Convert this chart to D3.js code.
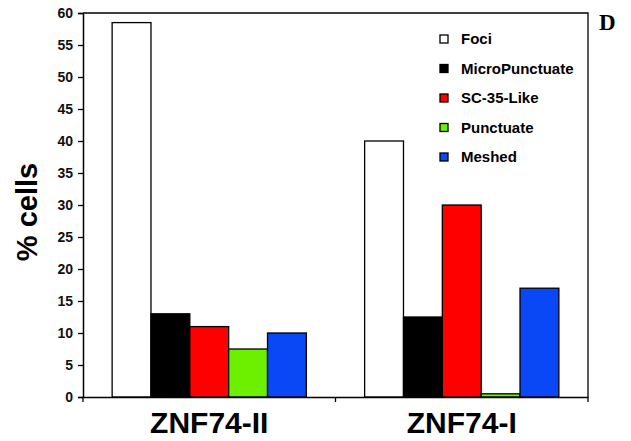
<!DOCTYPE html>
<html>
<head>
<meta charset="utf-8">
<script src="https://cdn.jsdelivr.net/npm/d3@7"></script>
<style>
  body { margin: 0; background: #fff; }
  text { font-family: Arial, "Liberation Sans", sans-serif; font-weight: bold; }
</style>
</head>
<body>
<div id="chart"></div>
<script>
// data
const groups = ['ZNF74-II', 'ZNF74-I'];
const series = ['Foci', 'MicroPunctuate', 'SC-35-Like', 'Punctuate', 'Meshed'];
const colors = ['#ffffff', '#000000', '#ff0000', '#6cf000', '#0a48f5'];
const valuesII = [58.5, 13, 11, 7.5, 10];
const valuesI = [40, 12.5, 30, 0.5, 17];
const yTicks = [0, 5, 10, 15, 20, 25, 30, 35, 40, 45, 50, 55, 60];

const rows = groups.map((g, i) => ({
  group: g,
  values: (i === 0 ? valuesII : valuesI).map((v, j) => ({ key: series[j], value: v, color: colors[j] }))
}));

const width = 631;
const height = 441;
const margin = { top: 13, right: 43, bottom: 44, left: 83 };
const chartWidth = width - margin.left - margin.right;
const chartHeight = height - margin.top - margin.bottom;

const svg = d3.select('#chart').append('svg').attr('width', width).attr('height', height);
const chart = svg.append('g').attr('transform', `translate(${margin.left}, ${margin.top})`);

const x0 = d3.scaleBand().domain(groups).range([0, chartWidth]).padding(0);
const x1 = d3.scaleBand().domain(series).range([0, x0.bandwidth()]).paddingInner(0).paddingOuter(0.75);
const y = d3.scaleLinear().domain([0, 60]).range([chartHeight, 0]);

// frame (top and right)
chart.append('path')
  .attr('d', `M0,0H${chartWidth}V${chartHeight}`)
  .attr('fill', 'none')
  .attr('stroke', '#000')
  .attr('stroke-width', 1.3);

// bars
chart.selectAll('.group')
  .data(rows)
  .enter()
  .append('g')
  .attr('class', 'group')
  .attr('transform', (d) => `translate(${x0(d.group)}, 0)`)
  .selectAll('rect')
  .data((d) => d.values)
  .enter()
  .append('rect')
  .attr('x', (d) => x1(d.key))
  .attr('y', (d) => y(d.value))
  .attr('width', x1.bandwidth())
  .attr('height', (d) => chartHeight - y(d.value))
  .attr('fill', (d) => d.color)
  .attr('stroke', '#000')
  .attr('stroke-width', 1.3);

// y axis
const yAxis = chart.append('g')
  .call(d3.axisLeft(y).tickValues(yTicks).tickSize(5).tickPadding(5));
yAxis.select('.domain').attr('stroke-width', 1.5);
yAxis.selectAll('.tick line').attr('stroke-width', 1.3);
yAxis.selectAll('text')
  .attr('font-weight', 'bold')
  .style('font-size', '14px')
  .style('font-weight', '900')
  .attr('fill', '#111');

// x axis: ticks on group boundaries, labels below groups
const xAxis = chart.append('g')
  .attr('transform', `translate(0, ${chartHeight})`)
  .call(d3.axisBottom(x0).tickSize(0));
xAxis.select('.domain').attr('stroke-width', 1.5);
xAxis.selectAll('text')
  .attr('y', 36)
  .attr('dy', 0)
  .style('font-size', '30px')
  .style('font-weight', 'bold')
  .attr('fill', '#000');
const bounds = [0, x0.bandwidth(), chartWidth];
xAxis.selectAll('.bound')
  .data(bounds)
  .enter()
  .append('line')
  .attr('class', 'bound')
  .attr('x1', (d) => d)
  .attr('x2', (d) => d)
  .attr('y1', 0)
  .attr('y2', 5)
  .attr('stroke', '#000')
  .attr('stroke-width', 1.3);

// y axis title
svg.append('text')
  .attr('transform', 'translate(37, 212) rotate(-90)')
  .attr('text-anchor', 'middle')
  .style('font-size', '29px')
  .text('% cells');

// legend
const legend = svg.selectAll('.legend')
  .data(series)
  .enter()
  .append('g')
  .attr('class', 'legend')
  .attr('transform', (d, i) => `translate(440, ${39 + i * 29.5})`);

legend.append('rect')
  .attr('x', 0)
  .attr('y', -4)
  .attr('width', 8)
  .attr('height', 8)
  .attr('fill', (d, i) => colors[i])
  .attr('stroke', '#000')
  .attr('stroke-width', 1.3);

legend.append('text')
  .attr('x', 21)
  .attr('dy', '0.36em')
  .style('font-size', '15px')
  .text((d) => d);

// panel letter
svg.append('text')
  .attr('x', 599)
  .attr('y', 30)
  .style('font-family', '"Liberation Serif", "Times New Roman", serif')
  .style('font-size', '23px')
  .text('D');
</script>
</body>
</html>
